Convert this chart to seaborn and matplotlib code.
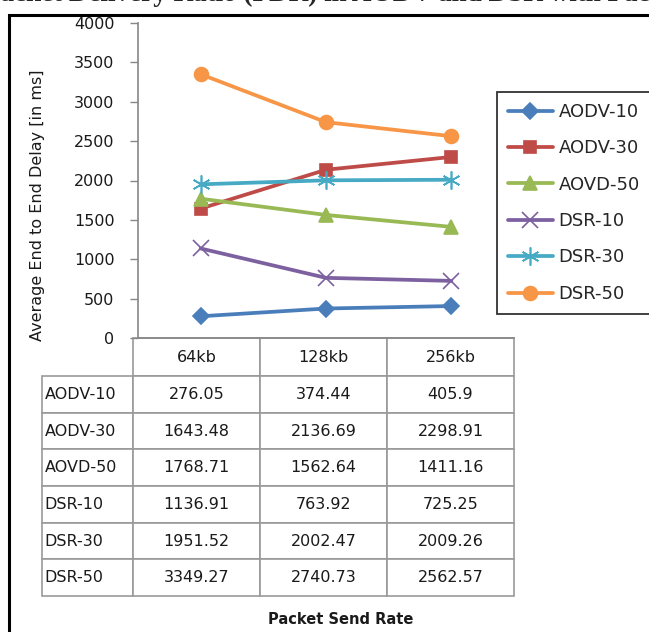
import pandas as pd
import numpy as np
import matplotlib
matplotlib.use("Agg")
import matplotlib.pyplot as plt
import seaborn as sns
from matplotlib.table import Table
from matplotlib.patches import Rectangle

# data
rates = ["64kb", "128kb", "256kb"]
series = ["AODV-10", "AODV-30", "AOVD-50", "DSR-10", "DSR-30", "DSR-50"]
aodv_10 = [276.05, 374.44, 405.9]
aodv_30 = [1643.48, 2136.69, 2298.91]
aovd_50 = [1768.71, 1562.64, 1411.16]
dsr_10 = [1136.91, 763.92, 725.25]
dsr_30 = [1951.52, 2002.47, 2009.26]
dsr_50 = [3349.27, 2740.73, 2562.57]
values = [aodv_10, aodv_30, aovd_50, dsr_10, dsr_30, dsr_50]
yticks = [0, 500, 1000, 1500, 2000, 2500, 3000, 3500, 4000]

colors = ["#4A7EBB", "#BE4B48", "#98B954", "#7D60A0", "#46AAC5", "#F79646"]
markers = ["D", "s", "^", "x", (6, 2, 0), "o"]
msizes = [8, 9, 10, 12, 13, 10]

rows = []
for name, vals in zip(series, values):
    for r, v in zip(rates, vals):
        rows.append({"rate": r, "delay": v, "series": name})
df = pd.DataFrame(rows)

sns.set_style("white")
plt.rcParams["font.family"] = ["DejaVu Sans"]
FS = 11.5
TXT = "#1a1a1a"

W, H = 649, 632
fig = plt.figure(figsize=(W / 100, H / 100), dpi=100)
ax = fig.add_axes([138 / W, 1 - 338 / H, 376 / W, 315 / H])

sns.lineplot(data=df, x="rate", y="delay", hue="series", hue_order=series,
             palette=dict(zip(series, colors)), linewidth=2.7, legend=False,
             ax=ax, sort=False)

# excel style markers (filled and line-art mixed, so set per line)
for line, c, m, ms in zip(ax.lines, colors, markers, msizes):
    line.set_marker(m)
    line.set_markeredgecolor(c)
    line.set_markerfacecolor(c)
    line.set_markersize(ms)
    line.set_markeredgewidth(1.2)

ax.set_xlim(-0.5, 2.5)
ax.set_ylim(0, 4000)
ax.set_yticks(yticks)
ax.set_yticklabels([str(t) for t in yticks], fontsize=FS, color=TXT)
ax.set_xticks([])
ax.set_xlabel("")
ax.set_ylabel("")
ax.tick_params(axis="y", left=True, length=6, width=1, color="#888888", pad=11)
for s in ["top", "right"]:
    ax.spines[s].set_visible(False)
for s in ["left", "bottom"]:
    ax.spines[s].set_color("#888888")
    ax.spines[s].set_linewidth(1.2)

# legend (runs off the right edge like the source)
leg = ax.legend(ax.lines, series, loc="upper left", bbox_to_anchor=(497 / W, 1 - 92 / H),
                bbox_transform=fig.transFigure, frameon=True, fancybox=False,
                fontsize=13, labelspacing=1.02, handlelength=2.5, handletextpad=0.3,
                borderpad=0.6, borderaxespad=0)
leg.get_frame().set_edgecolor("#000000")
leg.get_frame().set_linewidth(1.3)

# data table below the axis
tbl = Table(ax, bbox=[(42 - 138) / 376, -(596 - 338) / 315, (514 - 42) / 376, (596 - 338) / 315])
label_w = 91
col_w = 127
head_h = 38
row_h = 36.6
for j, r in enumerate(rates):
    cell = tbl.add_cell(0, j + 1, width=col_w, height=head_h, text=r, loc="center")
for i, name in enumerate(series):
    cell = tbl.add_cell(i + 1, 0, width=label_w, height=row_h, text=name, loc="left")
    for j in range(len(rates)):
        txt = "%g" % values[i][j]
        tbl.add_cell(i + 1, j + 1, width=col_w, height=row_h, text=txt, loc="center")
tbl.auto_set_font_size(False)
for (r, c), cell in tbl.get_celld().items():
    cell.set_edgecolor("#999999")
    cell.set_linewidth(1.2)
    cell.get_text().set_fontsize(FS)
    cell.get_text().set_color(TXT)
    if c == 0:
        cell.PAD = 0.03
ax.add_table(tbl)

fig.text(38 / W, 1 - 205 / H, "Average End to End Delay [in ms]", rotation=90,
         ha="center", va="center", fontsize=FS, color=TXT)
fig.text(341 / W, 1 - 620 / H, "Packet Send Rate", ha="center", va="center",
         fontsize=10.5, fontweight="bold", color=TXT)

# clipped caption and frame
fig.text(-16 / W, 1 - 1 / H, "Packet Delivery Ratio (PDR) in AODV and DSR with Packet Send Rate",
         ha="left", va="baseline", fontsize=19.5, fontweight="bold",
         family=["Liberation Serif", "DejaVu Serif"])
fig.patches.append(Rectangle((9 / W, -0.1), 1.2, 1 - 15 / H + 0.1, transform=fig.transFigure,
                             fill=False, edgecolor="black", linewidth=2.2))

fig.savefig("out.png", dpi=100)
